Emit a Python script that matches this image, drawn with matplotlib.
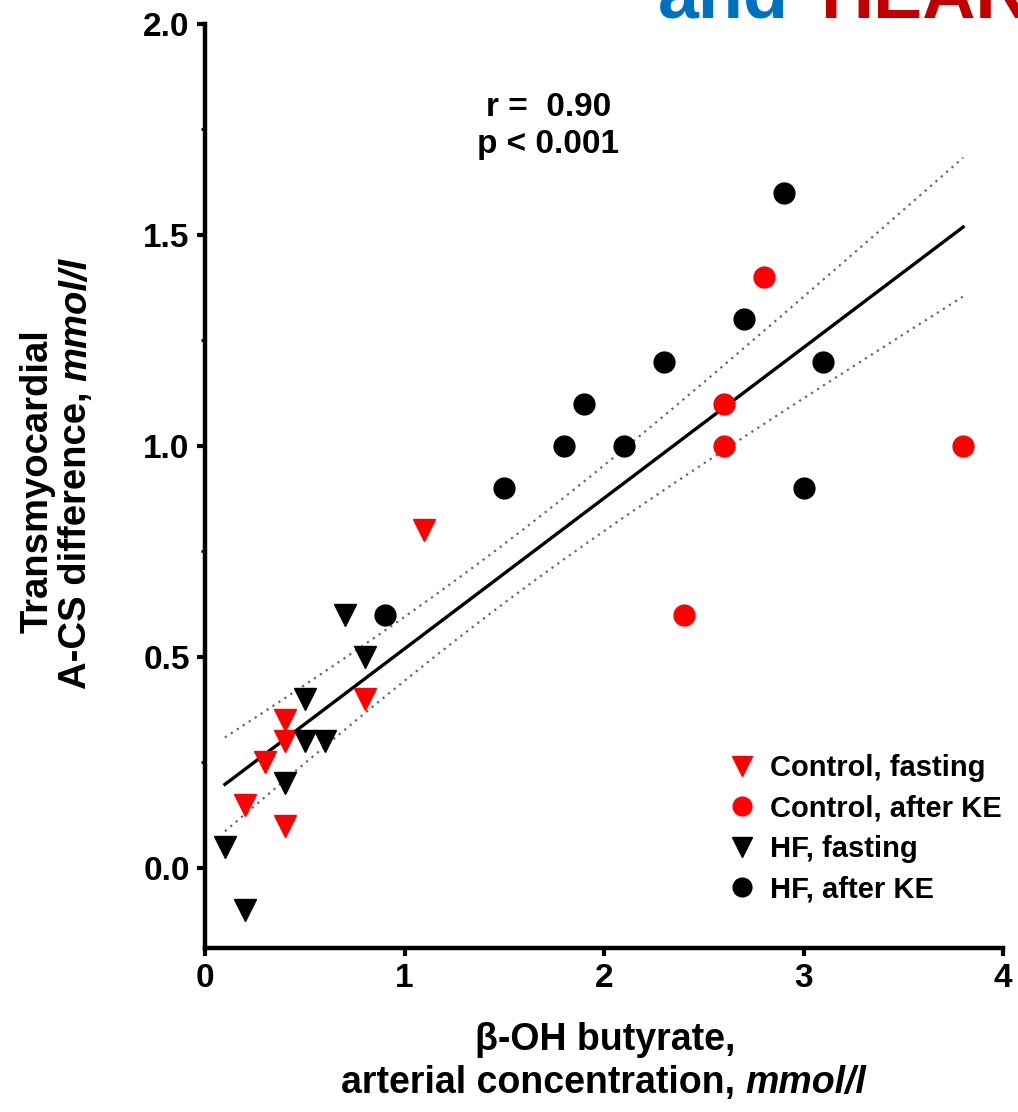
import numpy as np
import matplotlib
matplotlib.use("Agg")
import matplotlib.pyplot as plt
from matplotlib.ticker import MultipleLocator

plt.rcParams['font.family'] = ['Liberation Sans', 'DejaVu Sans']
plt.rcParams['font.weight'] = 'bold'

# Data
ctrl_fast_x = [0.2, 0.3, 0.4, 0.4, 0.4, 0.8, 1.1]
ctrl_fast_y = [0.15, 0.25, 0.35, 0.30, 0.10, 0.40, 0.80]
hf_fast_x = [0.1, 0.2, 0.4, 0.5, 0.5, 0.6, 0.7, 0.8]
hf_fast_y = [0.05, -0.10, 0.20, 0.40, 0.30, 0.30, 0.60, 0.50]
ctrl_ke_x = [2.4, 2.6, 2.6, 2.8, 3.8]
ctrl_ke_y = [0.60, 1.10, 1.00, 1.40, 1.00]
hf_ke_x = [0.9, 1.5, 1.8, 1.9, 2.1, 2.3, 2.7, 2.9, 3.0, 3.1]
hf_ke_y = [0.60, 0.90, 1.00, 1.10, 1.00, 1.20, 1.30, 1.60, 0.90, 1.20]
labels = ["Control, fasting", "Control, after KE", "HF, fasting", "HF, after KE"]
x_ticks = [0, 1, 2, 3, 4]
y_ticks = [0.0, 0.5, 1.0, 1.5, 2.0]
band_t = 1.75

W, H = 1018, 1112
fig = plt.figure(figsize=(W/100, H/100), dpi=100)
ax = fig.add_axes([205/W, 1-948/H, (1003-205)/W, (948-24)/H])

# regression + confidence band
allx = np.array(ctrl_fast_x + hf_fast_x + ctrl_ke_x + hf_ke_x)
ally = np.array(ctrl_fast_y + hf_fast_y + ctrl_ke_y + hf_ke_y)
b, a = np.polyfit(allx, ally, 1)
n = len(allx)
res = ally - (a + b*allx)
s = np.sqrt(np.sum(res**2)/(n-2))
xs = np.linspace(allx.min(), allx.max(), 200)
ys = a + b*xs
se = s*np.sqrt(1/n + (xs-allx.mean())**2/np.sum((allx-allx.mean())**2))
ax.plot(xs, ys, color='black', lw=2.4, zorder=2)
ax.plot(xs, ys+band_t*se, color='#666666', lw=1.6, ls=(0, (1, 2.2)), zorder=2)
ax.plot(xs, ys-band_t*se, color='#666666', lw=1.6, ls=(0, (1, 2.2)), zorder=2)

h1, = ax.plot(ctrl_fast_x, ctrl_fast_y, 'v', color='#ff0000', ms=16, ls='none', zorder=3)
h2, = ax.plot(ctrl_ke_x, ctrl_ke_y, 'o', color='#ff0000', ms=15, ls='none', zorder=3)
h3, = ax.plot(hf_fast_x, hf_fast_y, 'v', color='black', ms=16, ls='none', zorder=3)
h4, = ax.plot(hf_ke_x, hf_ke_y, 'o', color='black', ms=15, ls='none', zorder=3)

ax.set_xlim(0, 4)
ax.set_ylim(-0.19, 2.0)
ax.set_xticks(x_ticks)
ax.set_xticklabels([str(v) for v in x_ticks])
ax.set_yticks(y_ticks)
ax.set_yticklabels([f"{v:.1f}" for v in y_ticks])
ax.yaxis.set_minor_locator(MultipleLocator(0.25))
for sp in ['top', 'right']:
    ax.spines[sp].set_visible(False)
for sp in ['left', 'bottom']:
    ax.spines[sp].set_linewidth(3.2)
ax.tick_params(which='major', width=3, length=6, labelsize=24, direction='out', pad=5)
ax.tick_params(which='minor', width=2, length=3)
for lab in ax.get_xticklabels() + ax.get_yticklabels():
    lab.set_fontweight('bold')

leg = ax.legend([h1, h2, h3, h4], labels, loc='upper left', bbox_to_anchor=(0.637, 0.226),
                frameon=False, fontsize=21, handletextpad=0.45, labelspacing=0.43,
                borderpad=0, handlelength=1.0, markerscale=0.9)

ax.text(1.72, 1.84, "r =  0.90\np < 0.001", ha='center', va='top', fontsize=24,
        fontweight='bold', linespacing=1.28)

renderer = fig.canvas.get_renderer()

def two_part_h(xc, y, t1, t2, fs):
    a1 = fig.text(0, y, t1, fontsize=fs, fontweight='bold', ha='left', va='center')
    a2 = fig.text(0, y, t2, fontsize=fs, fontweight='bold', style='italic', ha='left', va='center')
    w1 = a1.get_window_extent(renderer).width / W
    w2 = a2.get_window_extent(renderer).width / W
    x0 = xc - (w1 + w2) / 2
    a1.set_x(x0)
    a2.set_x(x0 + w1)

def two_part_v(x, yc, t1, t2, fs):
    a1 = fig.text(x, 0, t1, fontsize=fs, fontweight='bold', rotation=90, ha='center', va='bottom')
    a2 = fig.text(x, 0, t2, fontsize=fs, fontweight='bold', style='italic', rotation=90,
                  ha='center', va='bottom')
    h1_ = a1.get_window_extent(renderer).height / H
    h2_ = a2.get_window_extent(renderer).height / H
    y0 = yc - (h1_ + h2_) / 2
    a1.set_y(y0)
    a2.set_y(y0 + h1_)

fig.text(38/W, 1-481/H, "Transmyocardial", rotation=90, ha='center', va='center',
         fontsize=27.5, fontweight='bold')
two_part_v(76/W, 1-473/H, "A-CS difference, ", "mmol/l", 27.5)
fig.text(605/W, 1-1040/H, "β-OH butyrate,", ha='center', va='center',
         fontsize=27, fontweight='bold')
two_part_h(604/W, 1-1083/H, "arterial concentration, ", "mmol/l", 27)

fig.text(658/W, 1-18/H, "and", color='#0070c0', fontsize=53, fontweight='bold',
         ha='left', va='baseline')
fig.text(820/W, 1-18/H, "HEART", color='#c00000', fontsize=53, fontweight='bold',
         ha='left', va='baseline')

fig.savefig("out.png", dpi=100)
